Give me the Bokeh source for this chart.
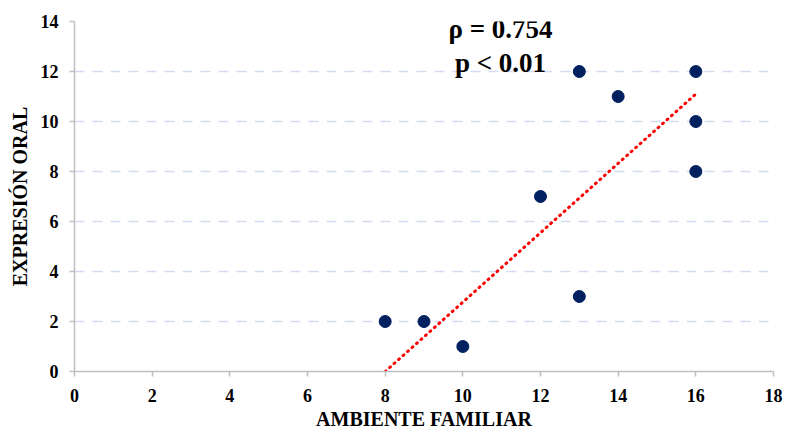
from bokeh.plotting import figure
from bokeh.models import Label, FixedTicker, Range1d
from bokeh.embed import file_html
from bokeh.resources import INLINE

# data
ambiente_familiar = [8, 9, 10, 12, 13, 13, 14, 16, 16, 16]
expresion_oral = [2, 2, 1, 7, 3, 12, 11, 12, 10, 8]
trend_x = [8, 16]
trend_y = [0, 11.1]
x_ticks = [0, 2, 4, 6, 8, 10, 12, 14, 16, 18]
y_ticks = [0, 2, 4, 6, 8, 10, 12, 14]
rho_text = "ρ = 0.754"
p_text = "p < 0.01"

FONT = "Liberation Serif"

p = figure(width=785, height=432, output_backend="svg", toolbar_location=None,
           x_range=Range1d(0, 18), y_range=Range1d(0, 14),
           min_border_left=74, min_border_right=12, min_border_top=21,
           min_border_bottom=61)
p.outline_line_color = None
p.background_fill_color = "white"

# grid
p.xgrid.grid_line_color = None
p.ygrid.grid_line_color = "#D3DCF0"
p.ygrid.grid_line_width = 1.5
p.ygrid.grid_line_dash = "10 8"
p.ygrid.ticker = FixedTicker(ticks=y_ticks)

# axes
for ax in (p.xaxis[0], p.yaxis[0]):
    ax.axis_line_color = "#BFBFBF"
    ax.axis_line_width = 1.5
    ax.major_tick_line_color = "#BFBFBF"
    ax.major_tick_line_width = 1.5
    ax.major_tick_out = 5
    ax.major_tick_in = 0
    ax.minor_tick_line_color = None
    ax.major_label_text_font = FONT
    ax.major_label_text_font_style = "bold"
    ax.major_label_text_font_size = "18px"
    ax.major_label_text_color = "black"
    ax.axis_label_text_font = FONT
    ax.axis_label_text_font_style = "bold"
    ax.axis_label_text_font_size = "20px"
    ax.axis_label_text_color = "black"

p.xaxis.ticker = FixedTicker(ticks=x_ticks)
p.yaxis.ticker = FixedTicker(ticks=y_ticks)
p.xaxis.axis_label = "AMBIENTE FAMILIAR"
p.yaxis.axis_label = "EXPRESIÓN ORAL"
p.xaxis.major_label_standoff = 12
p.yaxis.major_label_standoff = 11
p.xaxis.axis_label_standoff = 3
p.yaxis.axis_label_standoff = 7

# trend line
p.line(trend_x, trend_y, line_color="#FF0000", line_width=3, line_dash="1 5",
       line_cap="round")

# points
p.scatter(ambiente_familiar, expresion_oral, size=12, fill_color="#002060",
          line_color="#002060")

p.add_layout(Label(x=10.97, y=13.7, text=rho_text, text_font=FONT,
                   text_font_style="bold", text_font_size="27px",
                   text_color="black",
                   text_align="center", text_baseline="middle"))
p.add_layout(Label(x=10.97, y=12.34, text=p_text, text_font=FONT,
                   text_font_style="bold", text_font_size="27px",
                   text_color="black",
                   text_align="center", text_baseline="middle"))

open("out.html", "w").write(file_html(p, INLINE))
